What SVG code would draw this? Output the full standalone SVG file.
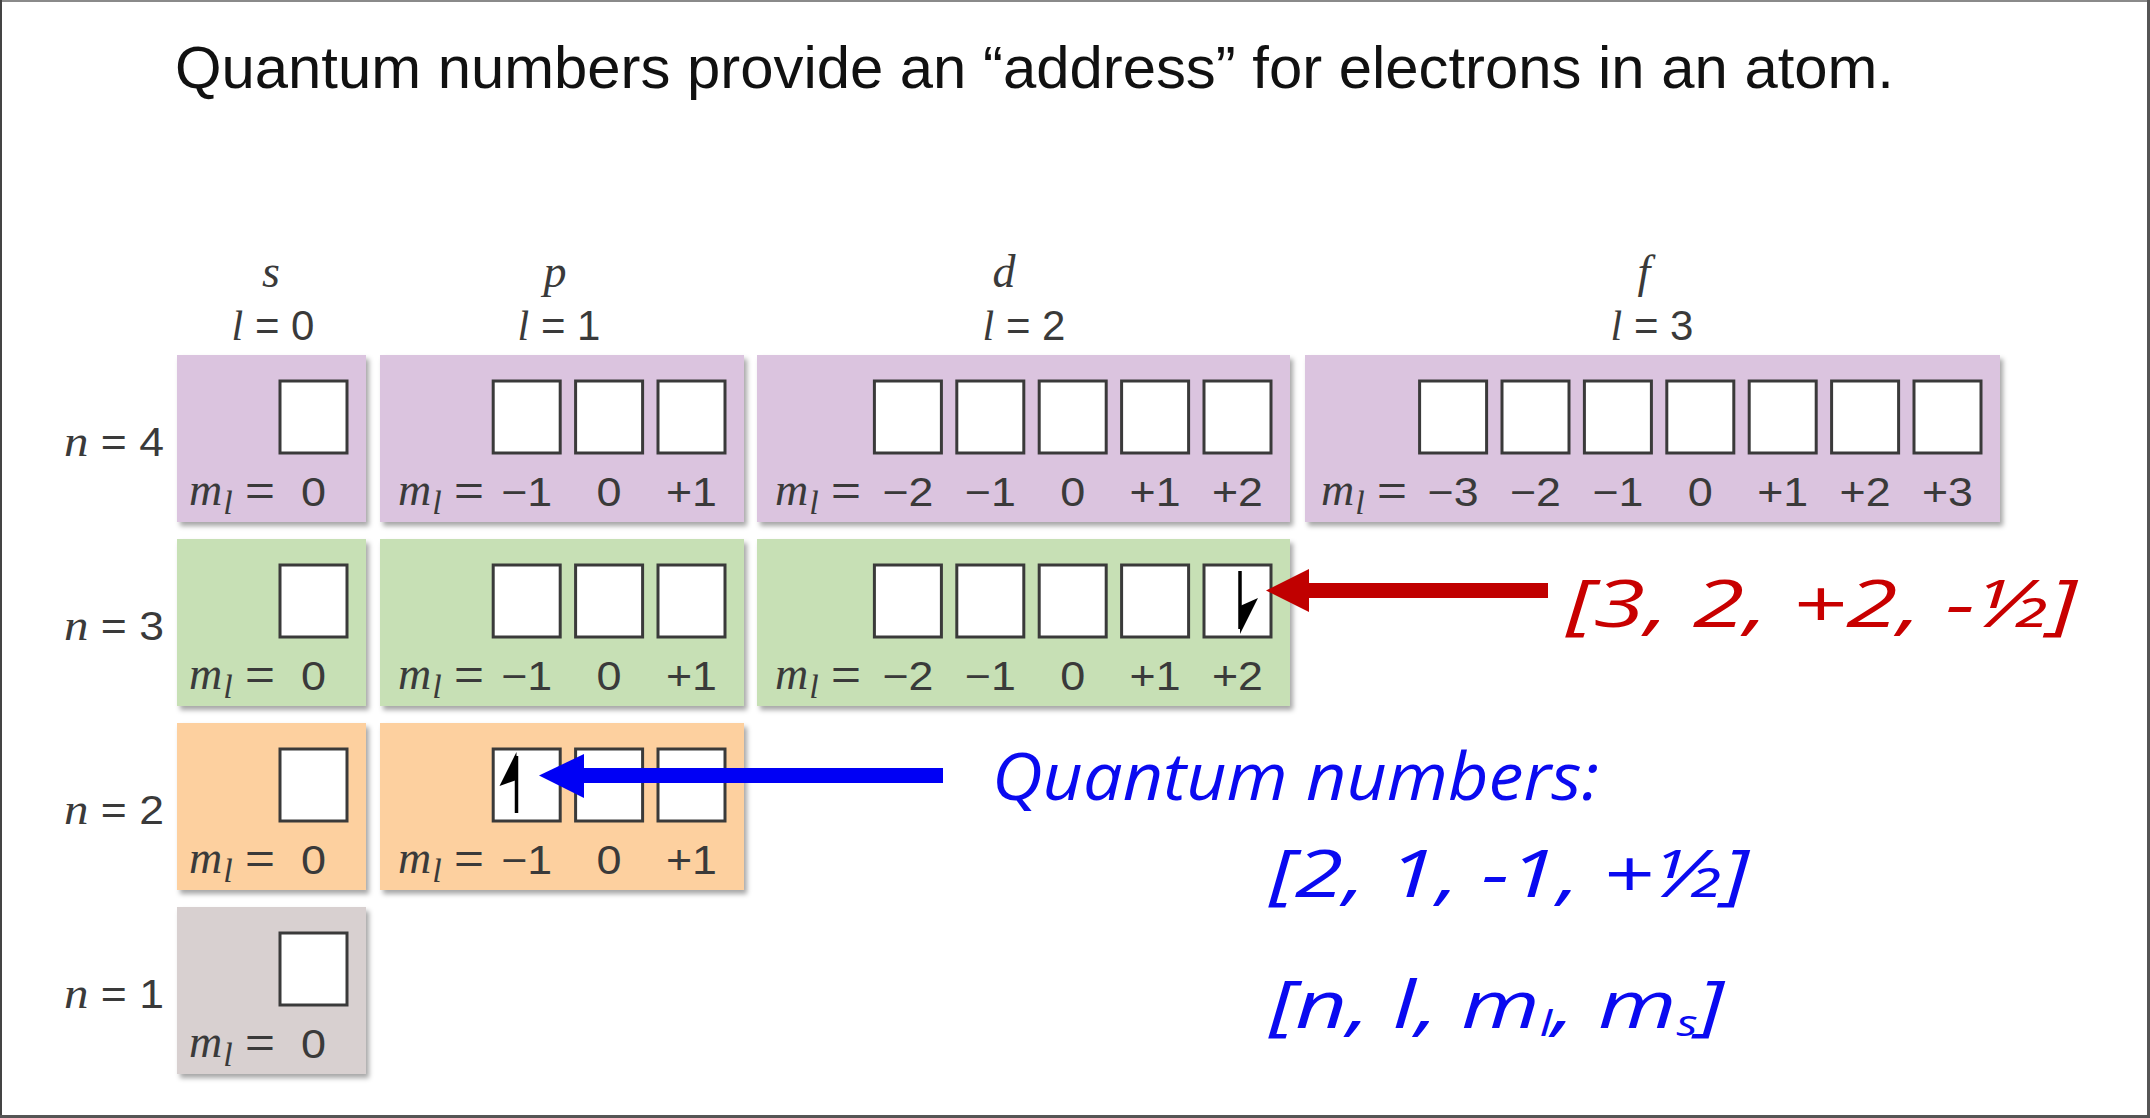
<svg xmlns="http://www.w3.org/2000/svg" width="2150" height="1118" viewBox="0 0 2150 1118">
<defs>
<style>
.title{font-family:"Liberation Sans",Arial,sans-serif;font-size:60px;fill:#111}
.bg{filter:url(#sh)}
.n4{fill:#dbc4df}
.n3{fill:#c7e0b5}
.n2{fill:#fdd09f}
.n1{fill:#d8d0d0}
.sq{fill:#fff;stroke:#3a3a3a;stroke-width:3}
.ml{font-family:"Liberation Serif","Times New Roman",serif;font-style:italic;font-size:46px;fill:#3a3a3a}
.sub{font-size:34px}
.eq{font-family:"Liberation Sans",Arial,sans-serif;font-size:42px;fill:#3a3a3a}
.v{font-family:"Liberation Sans",Arial,sans-serif;font-size:40px;fill:#3a3a3a;text-anchor:middle}
.nl{font-family:"Liberation Sans",Arial,sans-serif;font-size:40px;fill:#3a3a3a}
.it{font-family:"Liberation Serif","Times New Roman",serif;font-style:italic}
.hl{font-family:"Liberation Serif","Times New Roman",serif;font-style:italic;font-size:46px;fill:#3a3a3a;text-anchor:middle}
.hv{font-family:"Liberation Sans",Arial,sans-serif;font-size:42px;fill:#3a3a3a;text-anchor:middle}
.hand{font-family:"Open Sans","DejaVu Sans",sans-serif;font-style:italic;font-size:66px}
.red{fill:#c80000}
.blue{fill:#0a0af0}
.e{stroke:#000;stroke-width:3.5;fill:none}
.eh{fill:#000}
</style>
<filter id="sh" x="-5%" y="-5%" width="115%" height="120%">
<feDropShadow dx="3" dy="4" stdDeviation="2.5" flood-color="#000" flood-opacity="0.35"/>
</filter>
</defs>
<rect x="0" y="0" width="2150" height="1118" fill="#fff"/>
<g id="frame">
<line x1="0" y1="1" x2="2150" y2="1" stroke="#8a8a8a" stroke-width="2"/>
<line x1="1" y1="0" x2="1" y2="1118" stroke="#444" stroke-width="2"/>
<line x1="2148.5" y1="0" x2="2148.5" y2="1118" stroke="#555" stroke-width="3"/>
<line x1="0" y1="1116.5" x2="2150" y2="1116.5" stroke="#555" stroke-width="3"/>
</g>
<text id="title" class="title" x="175" y="88" textLength="1719" lengthAdjust="spacingAndGlyphs">Quantum numbers provide an “address” for electrons in an atom.</text>

<g id="headers">
<text class="hl" x="271" y="287">s</text>
<text class="hv" x="273" y="340"><tspan class="it">l</tspan> = 0</text>
<text class="hl" x="555" y="287">p</text>
<text class="hv" x="559" y="340"><tspan class="it">l</tspan> = 1</text>
<text class="hl" x="1004" y="287">d</text>
<text class="hv" x="1024" y="340"><tspan class="it">l</tspan> = 2</text>
<text class="hl" x="1644" y="287">f</text>
<text class="hv" x="1652" y="340"><tspan class="it">l</tspan> = 3</text>
</g>

<g id="nlabels">
<text class="nl" x="64" y="456" textLength="100" lengthAdjust="spacingAndGlyphs"><tspan class="it" font-size="44">n</tspan> = 4</text>
<text class="nl" x="64" y="640" textLength="100" lengthAdjust="spacingAndGlyphs"><tspan class="it" font-size="44">n</tspan> = 3</text>
<text class="nl" x="64" y="824" textLength="100" lengthAdjust="spacingAndGlyphs"><tspan class="it" font-size="44">n</tspan> = 2</text>
<text class="nl" x="64" y="1008" textLength="100" lengthAdjust="spacingAndGlyphs"><tspan class="it" font-size="44">n</tspan> = 1</text>
</g>

<!-- n = 4 -->
<g id="n4s">
<rect class="bg n4" x="177" y="355" width="189" height="167"/>
<rect class="sq" x="280" y="381" width="67" height="72"/>
<text class="ml" x="189" y="505">m<tspan class="sub" dy="9" dx="1">l</tspan></text>
<text class="eq" x="245" y="505" textLength="30" lengthAdjust="spacingAndGlyphs">=</text>
<text class="v" x="313.5" y="506" textLength="25" lengthAdjust="spacingAndGlyphs">0</text>
</g>
<g id="n4p">
<rect class="bg n4" x="380" y="355" width="364" height="167"/>
<rect class="sq" x="493.2" y="381" width="67" height="72"/>
<rect class="sq" x="575.6" y="381" width="67" height="72"/>
<rect class="sq" x="658" y="381" width="67" height="72"/>
<text class="ml" x="398" y="505">m<tspan class="sub" dy="9" dx="1">l</tspan></text>
<text class="eq" x="454" y="505" textLength="30" lengthAdjust="spacingAndGlyphs">=</text>
<text class="v" x="526.7" y="506" textLength="51" lengthAdjust="spacingAndGlyphs">−1</text>
<text class="v" x="609.1" y="506" textLength="25" lengthAdjust="spacingAndGlyphs">0</text>
<text class="v" x="691.5" y="506" textLength="51" lengthAdjust="spacingAndGlyphs">+1</text>
</g>
<g id="n4d">
<rect class="bg n4" x="757" y="355" width="533" height="167"/>
<rect class="sq" x="874.4" y="381" width="67" height="72"/>
<rect class="sq" x="956.8" y="381" width="67" height="72"/>
<rect class="sq" x="1039.2" y="381" width="67" height="72"/>
<rect class="sq" x="1121.6" y="381" width="67" height="72"/>
<rect class="sq" x="1204" y="381" width="67" height="72"/>
<text class="ml" x="775" y="505">m<tspan class="sub" dy="9" dx="1">l</tspan></text>
<text class="eq" x="831" y="505" textLength="30" lengthAdjust="spacingAndGlyphs">=</text>
<text class="v" x="907.9" y="506" textLength="51" lengthAdjust="spacingAndGlyphs">−2</text>
<text class="v" x="990.3" y="506" textLength="51" lengthAdjust="spacingAndGlyphs">−1</text>
<text class="v" x="1072.7" y="506" textLength="25" lengthAdjust="spacingAndGlyphs">0</text>
<text class="v" x="1155.1" y="506" textLength="51" lengthAdjust="spacingAndGlyphs">+1</text>
<text class="v" x="1237.5" y="506" textLength="51" lengthAdjust="spacingAndGlyphs">+2</text>
</g>
<g id="n4f">
<rect class="bg n4" x="1305" y="355" width="695" height="167"/>
<rect class="sq" x="1419.6" y="381" width="67" height="72"/>
<rect class="sq" x="1502" y="381" width="67" height="72"/>
<rect class="sq" x="1584.4" y="381" width="67" height="72"/>
<rect class="sq" x="1666.8" y="381" width="67" height="72"/>
<rect class="sq" x="1749.2" y="381" width="67" height="72"/>
<rect class="sq" x="1831.6" y="381" width="67" height="72"/>
<rect class="sq" x="1914" y="381" width="67" height="72"/>
<text class="ml" x="1321" y="505">m<tspan class="sub" dy="9" dx="1">l</tspan></text>
<text class="eq" x="1377" y="505" textLength="30" lengthAdjust="spacingAndGlyphs">=</text>
<text class="v" x="1453.1" y="506" textLength="51" lengthAdjust="spacingAndGlyphs">−3</text>
<text class="v" x="1535.5" y="506" textLength="51" lengthAdjust="spacingAndGlyphs">−2</text>
<text class="v" x="1617.9" y="506" textLength="51" lengthAdjust="spacingAndGlyphs">−1</text>
<text class="v" x="1700.3" y="506" textLength="25" lengthAdjust="spacingAndGlyphs">0</text>
<text class="v" x="1782.7" y="506" textLength="51" lengthAdjust="spacingAndGlyphs">+1</text>
<text class="v" x="1865.1" y="506" textLength="51" lengthAdjust="spacingAndGlyphs">+2</text>
<text class="v" x="1947.5" y="506" textLength="51" lengthAdjust="spacingAndGlyphs">+3</text>
</g>

<!-- n = 3 -->
<g id="n3s">
<rect class="bg n3" x="177" y="539" width="189" height="167"/>
<rect class="sq" x="280" y="565" width="67" height="72"/>
<text class="ml" x="189" y="689">m<tspan class="sub" dy="9" dx="1">l</tspan></text>
<text class="eq" x="245" y="689" textLength="30" lengthAdjust="spacingAndGlyphs">=</text>
<text class="v" x="313.5" y="690" textLength="25" lengthAdjust="spacingAndGlyphs">0</text>
</g>
<g id="n3p">
<rect class="bg n3" x="380" y="539" width="364" height="167"/>
<rect class="sq" x="493.2" y="565" width="67" height="72"/>
<rect class="sq" x="575.6" y="565" width="67" height="72"/>
<rect class="sq" x="658" y="565" width="67" height="72"/>
<text class="ml" x="398" y="689">m<tspan class="sub" dy="9" dx="1">l</tspan></text>
<text class="eq" x="454" y="689" textLength="30" lengthAdjust="spacingAndGlyphs">=</text>
<text class="v" x="526.7" y="690" textLength="51" lengthAdjust="spacingAndGlyphs">−1</text>
<text class="v" x="609.1" y="690" textLength="25" lengthAdjust="spacingAndGlyphs">0</text>
<text class="v" x="691.5" y="690" textLength="51" lengthAdjust="spacingAndGlyphs">+1</text>
</g>
<g id="n3d">
<rect class="bg n3" x="757" y="539" width="533" height="167"/>
<rect class="sq" x="874.4" y="565" width="67" height="72"/>
<rect class="sq" x="956.8" y="565" width="67" height="72"/>
<rect class="sq" x="1039.2" y="565" width="67" height="72"/>
<rect class="sq" x="1121.6" y="565" width="67" height="72"/>
<rect class="sq" x="1204" y="565" width="67" height="72"/>
<text class="ml" x="775" y="689">m<tspan class="sub" dy="9" dx="1">l</tspan></text>
<text class="eq" x="831" y="689" textLength="30" lengthAdjust="spacingAndGlyphs">=</text>
<text class="v" x="907.9" y="690" textLength="51" lengthAdjust="spacingAndGlyphs">−2</text>
<text class="v" x="990.3" y="690" textLength="51" lengthAdjust="spacingAndGlyphs">−1</text>
<text class="v" x="1072.7" y="690" textLength="25" lengthAdjust="spacingAndGlyphs">0</text>
<text class="v" x="1155.1" y="690" textLength="51" lengthAdjust="spacingAndGlyphs">+1</text>
<text class="v" x="1237.5" y="690" textLength="51" lengthAdjust="spacingAndGlyphs">+2</text>
</g>

<!-- n = 2 -->
<g id="n2s">
<rect class="bg n2" x="177" y="723" width="189" height="167"/>
<rect class="sq" x="280" y="749" width="67" height="72"/>
<text class="ml" x="189" y="873">m<tspan class="sub" dy="9" dx="1">l</tspan></text>
<text class="eq" x="245" y="873" textLength="30" lengthAdjust="spacingAndGlyphs">=</text>
<text class="v" x="313.5" y="874" textLength="25" lengthAdjust="spacingAndGlyphs">0</text>
</g>
<g id="n2p">
<rect class="bg n2" x="380" y="723" width="364" height="167"/>
<rect class="sq" x="493.2" y="749" width="67" height="72"/>
<rect class="sq" x="575.6" y="749" width="67" height="72"/>
<rect class="sq" x="658" y="749" width="67" height="72"/>
<text class="ml" x="398" y="873">m<tspan class="sub" dy="9" dx="1">l</tspan></text>
<text class="eq" x="454" y="873" textLength="30" lengthAdjust="spacingAndGlyphs">=</text>
<text class="v" x="526.7" y="874" textLength="51" lengthAdjust="spacingAndGlyphs">−1</text>
<text class="v" x="609.1" y="874" textLength="25" lengthAdjust="spacingAndGlyphs">0</text>
<text class="v" x="691.5" y="874" textLength="51" lengthAdjust="spacingAndGlyphs">+1</text>
</g>

<!-- n = 1 -->
<g id="n1s">
<rect class="bg n1" x="177" y="907" width="189" height="167"/>
<rect class="sq" x="280" y="933" width="67" height="72"/>
<text class="ml" x="189" y="1057">m<tspan class="sub" dy="9" dx="1">l</tspan></text>
<text class="eq" x="245" y="1057" textLength="30" lengthAdjust="spacingAndGlyphs">=</text>
<text class="v" x="313.5" y="1058" textLength="25" lengthAdjust="spacingAndGlyphs">0</text>
</g>

<g id="electrons">
<line class="e" x1="516.5" y1="756" x2="516.5" y2="813"/>
<polygon class="eh" points="516.5,752 499.5,786 516.5,780"/>
<line class="e" x1="1240" y1="571" x2="1240" y2="629"/>
<polygon class="eh" points="1240,634 1258,598 1240,606"/>
</g>

<g id="connectors">
<rect x="580" y="768" width="363" height="15" fill="#0000f5"/>
<polygon points="539,775.5 584,754 584,798" fill="#0000f5"/>
<rect x="1306" y="583" width="242" height="15" fill="#c00000"/>
<polygon points="1266,590.5 1309,569 1309,612" fill="#c00000"/>
</g>

<g id="annotations">
<text class="hand red" x="1566" y="627" textLength="511" lengthAdjust="spacingAndGlyphs">[3, 2, +2, -½]</text>
<text class="hand blue" x="992" y="800" textLength="607" lengthAdjust="spacingAndGlyphs">Quantum numbers:</text>
<text class="hand blue" x="1269" y="897" textLength="480" lengthAdjust="spacingAndGlyphs">[2, 1, -1, +½]</text>
<text class="hand blue" x="1269" y="1028" textLength="455" lengthAdjust="spacingAndGlyphs">[n, l, m<tspan font-size="36" dy="8">l</tspan><tspan dy="-8">, m</tspan><tspan font-size="36" dy="8">s</tspan><tspan dy="-8">]</tspan></text>
</g>
</svg>
